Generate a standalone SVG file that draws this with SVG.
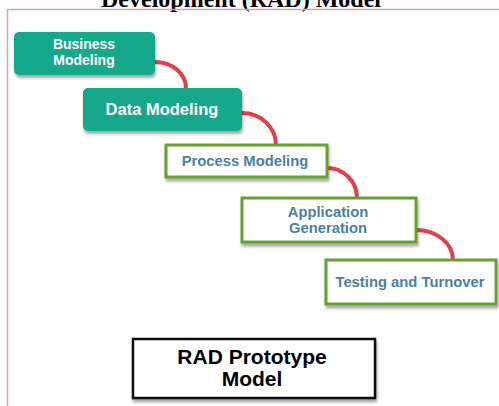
<svg xmlns="http://www.w3.org/2000/svg" width="499" height="406" viewBox="0 0 499 406">
<defs>
<filter id="sh" x="-10%" y="-20%" width="130%" height="160%">
<feGaussianBlur in="SourceAlpha" stdDeviation="1.5"/>
<feOffset dx="1" dy="3" result="b"/>
<feComponentTransfer><feFuncA type="linear" slope="0.35"/></feComponentTransfer>
<feMerge><feMergeNode/><feMergeNode in="SourceGraphic"/></feMerge>
</filter>
</defs>
<style>
.teal{fill:#17a88a;filter:url(#sh)}
.green{fill:#fff;stroke:#66a030;stroke-width:3;filter:url(#sh)}
.tw{font-family:"Liberation Sans",Arial,sans-serif;font-weight:bold;font-size:14px;fill:#fff;text-anchor:middle}
.tb{font-family:"Liberation Sans",Arial,sans-serif;font-weight:bold;font-size:14.8px;fill:#4a7fa2;text-anchor:middle}
.tk{font-family:"Liberation Sans",Arial,sans-serif;font-weight:bold;font-size:21px;fill:#000;text-anchor:middle}
.conn{fill:none;stroke:#e0404a;stroke-width:4;stroke-linecap:round}
</style>
<rect width="499" height="406" fill="#fff"/>
<text x="241" y="6.5" font-family="'Liberation Serif','Times New Roman',serif" font-weight="bold" font-size="24" text-anchor="middle">Development (RAD) Model</text>
<path d="M7.5,406 V9.5 H499" fill="none" stroke="#c9a9b2" stroke-width="1.5"/>
<g id="connectors">
<path class="conn" d="M155,62 A31,26 0 0 1 186,88"/>
<path class="conn" d="M242,113 A34,32 0 0 1 276,145"/>
<path class="conn" d="M327,168 A30,30 0 0 1 357,198"/>
<path class="conn" d="M416,230 A37,30 0 0 1 453,260"/>
</g>
<g id="business">
<rect class="teal" x="14" y="32" width="141" height="43" rx="5"/>
<text class="tw" x="84" y="49">Business</text>
<text class="tw" x="84" y="65">Modeling</text>
</g>
<g id="data">
<rect class="teal" x="83" y="88" width="159" height="43" rx="5"/>
<text class="tw" x="162" y="115" style="font-size:16.5px">Data Modeling</text>
</g>
<g id="process">
<rect class="green" x="166" y="145" width="161" height="32"/>
<text class="tb" x="245" y="166">Process Modeling</text>
</g>
<g id="appgen">
<rect class="green" x="242" y="198" width="174" height="44"/>
<text class="tb" x="328" y="217">Application</text>
<text class="tb" x="328" y="233">Generation</text>
</g>
<g id="testing">
<rect class="green" x="326" y="260" width="170" height="44"/>
<text class="tb" x="410" y="287">Testing and Turnover</text>
</g>
<g id="rad">
<rect x="133" y="339" width="242" height="59" fill="#fff" stroke="#111" stroke-width="2.5" filter="url(#sh)"/>
<text class="tk" x="252" y="364">RAD Prototype</text>
<text class="tk" x="252" y="386">Model</text>
</g>
</svg>
